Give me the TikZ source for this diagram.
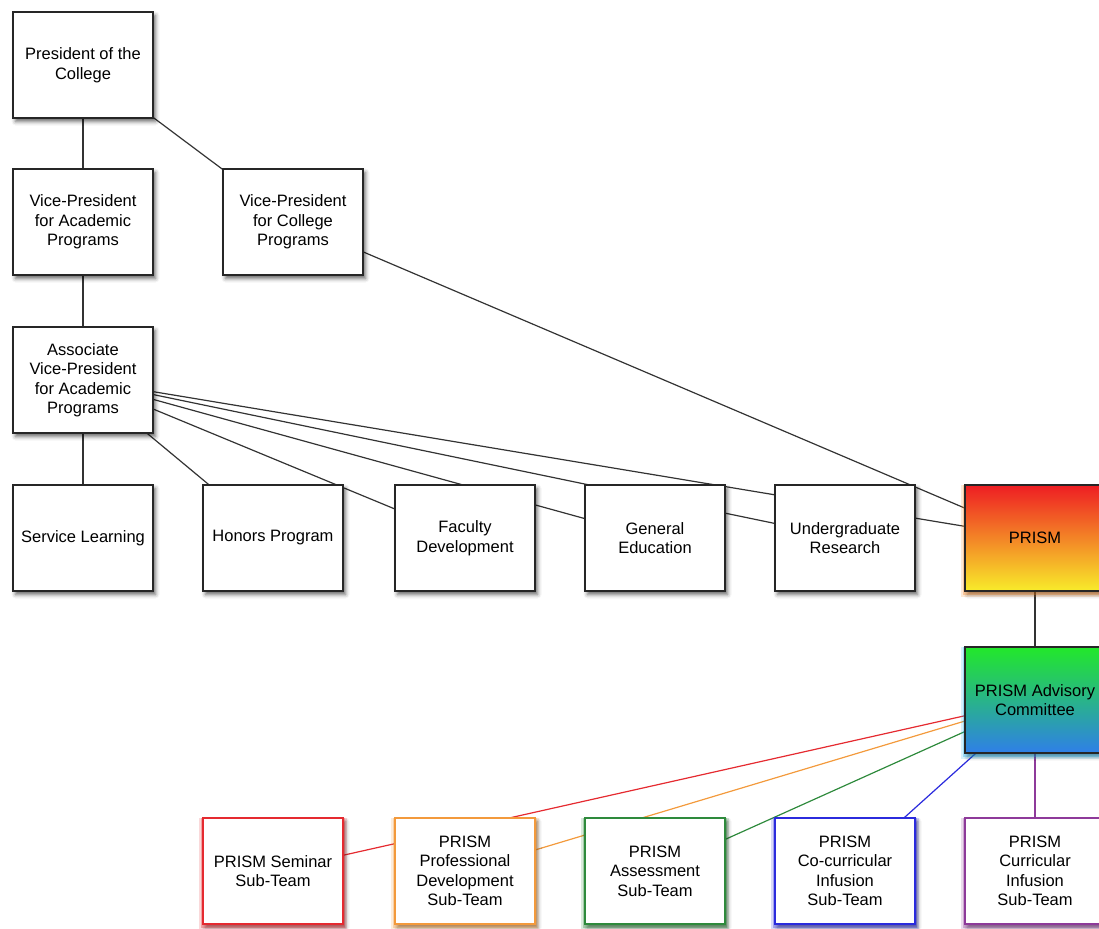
\documentclass[tikz,border=0pt]{standalone}
\usepackage{fontspec}
\setmainfont{Liberation Sans}
\usetikzlibrary{shadows,shadows.blur,backgrounds}
\definecolor{cRed}{HTML}{E52A30}
\definecolor{cOrange}{HTML}{F39A3C}
\definecolor{cGreen}{HTML}{2E8A3C}
\definecolor{cBlue}{HTML}{2B2BDD}
\definecolor{cPurple}{HTML}{8E3A9A}
\definecolor{pTop}{HTML}{EE1D23}
\definecolor{pMid}{HTML}{F6841F}
\definecolor{pBot}{HTML}{F8EC2A}
\definecolor{aTop}{HTML}{22E82A}
\definecolor{aMid}{HTML}{20A8A0}
\definecolor{aBot}{HTML}{2F7FE8}
\begin{document}
\begin{tikzpicture}[x=1pt,y=-1pt,
  box/.style={draw=black!85, line width=1.4pt, fill=white,
    minimum width=140pt, minimum height=106pt, align=center, inner sep=2pt,
    font=\fontsize{16.5}{19.5}\selectfont,
    blur shadow={shadow xshift=2.5pt, shadow yshift=-3.5pt, shadow blur radius=4pt, shadow opacity=60}},
  glow/.style={
    general shadow={shadow xshift=0pt, shadow yshift=-3pt, shadow scale=1.06, fill=#1, opacity=0.18},
    general shadow={shadow xshift=0pt, shadow yshift=-2pt, shadow scale=1.03, fill=#1, opacity=0.3}},
  subbox/.style={box, draw=#1, line width=1.8pt, glow=#1},
  link/.style={draw=black!80, line width=1.2pt},
  clink/.style={draw=#1, line width=1.2pt},
]
\useasboundingbox (0,0) rectangle (1099,928);

\node[box] (pres) at (83,65) {President of the\\College};
\node[box] (vpa) at (83,222) {Vice-President\\for Academic\\Programs};
\node[box] (vpc) at (293,222) {Vice-President\\for College\\Programs};
\node[box] (avp) at (83,380) {Associate\\Vice-President\\for Academic\\Programs};

\node[box] (sl) at (83,538) {Service Learning};
\node[box] (hp) at (273,538) {Honors Program};
\node[box] (fd) at (465,538) {Faculty\\Development};
\node[box] (ge) at (655,538) {General\\Education};
\node[box] (ur) at (845,538) {Undergraduate\\Research};
\node[box, glow=pMid, top color=pTop, middle color=pMid, bottom color=pBot] (prism) at (1035,538) {PRISM};

\node[box, glow=aBot!60!cyan, top color=aTop, middle color=aMid, bottom color=aBot] (adv) at (1035,700) {PRISM Advisory\\Committee};

\node[subbox=cRed] (s1) at (273,871) {PRISM Seminar\\Sub-Team};
\node[subbox=cOrange] (s2) at (465,871) {PRISM\\Professional\\Development\\Sub-Team};
\node[subbox=cGreen] (s3) at (655,871) {PRISM\\Assessment\\Sub-Team};
\node[subbox=cBlue] (s4) at (845,871) {PRISM\\Co-curricular\\Infusion\\Sub-Team};
\node[subbox=cPurple] (s5) at (1035,871) {PRISM\\Curricular\\Infusion\\Sub-Team};

\begin{scope}[on background layer]
  \draw[link] (pres.center) -- (vpa.center);
  \draw[link] (pres.center) -- (vpc.center);
  \draw[link] (vpa.center) -- (avp.center);
  \draw[link] (avp.center) -- (sl.center);
  \draw[link] (avp.center) -- (hp.center);
  \draw[link] (avp.center) -- (fd.center);
  \draw[link] (avp.center) -- (ge.center);
  \draw[link] (avp.center) -- (ur.center);
  \draw[link] (avp.center) -- (prism.center);
  \draw[link] (vpc.center) -- (prism.center);
  \draw[link] (prism.center) -- (adv.center);
  \draw[clink=cRed] (adv.center) -- (s1.center);
  \draw[clink=cOrange] (adv.center) -- (s2.center);
  \draw[clink=cGreen] (adv.center) -- (s3.center);
  \draw[clink=cBlue] (adv.center) -- (s4.center);
  \draw[clink=cPurple] (adv.center) -- (s5.center);
\end{scope}
\end{tikzpicture}
\end{document}
